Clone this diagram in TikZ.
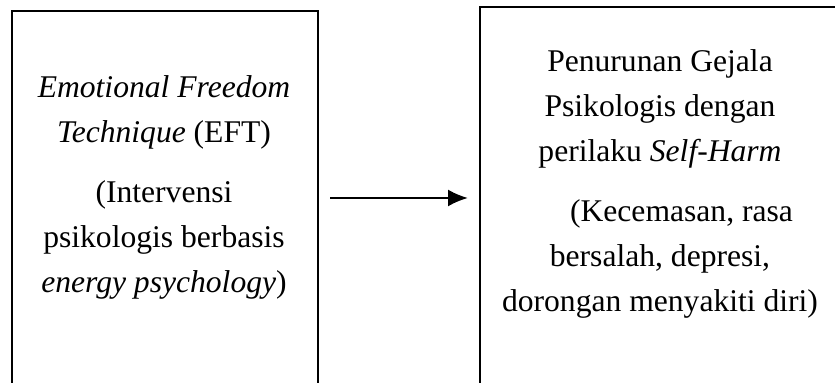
\documentclass[tikz,border=0pt]{standalone}
\usepackage{fontspec}
\setmainfont{Liberation Serif}
\usepackage{tikz}
\usetikzlibrary{positioning}
\usetikzlibrary{arrows.meta}

\begin{document}
\begin{tikzpicture}
			[
				x = 0.5pt, y = -0.5pt,
				myblock/.style = {draw, rectangle, line width = 1.2pt, inner sep = 0pt, anchor = north west, minimum height = 250pt},
				mytext/.style = {align = center, font = \fontsize{15.8}{22.5}\selectfont},
				myarrow/.style = {-{Latex[length = 10pt, width = 8.5pt]}, line width = 1.1pt}
			]
			%
			\useasboundingbox (0,0) rectangle (835,383);
			\clip (0,0) rectangle (835,383);
			%
			\node (eft) [myblock, minimum width = 153pt] at (11,10) {};
			\node (efttext) [mytext] at (164,187) {\textit{Emotional Freedom}\\ \textit{Technique} (EFT)\\[7.5pt] (Intervensi\\ psikologis berbasis\\ \textit{energy psychology})};
			%
			\node (harm) [myblock, minimum width = 181pt] at (479,6) {};
			\node (harmtext) [mytext] at (660,184) {Penurunan Gejala\\ Psikologis dengan\\ perilaku \textit{Self-Harm}\\[7.5pt] \hspace{21.5pt}(Kecemasan, rasa\\ bersalah, depresi,\\ dorongan menyakiti diri)};
			%
			\coordinate (arrowtail) at (330,198);
			\coordinate (arrowhead) at (468,198);
			\draw [myarrow] (arrowtail) -- (arrowhead);
			%
		\end{tikzpicture}
\end{document}
